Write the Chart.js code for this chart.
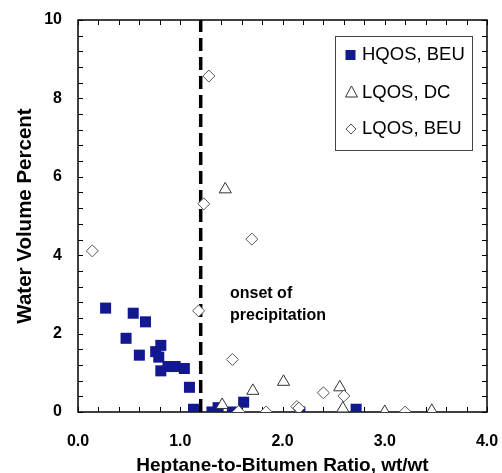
<!DOCTYPE html>
<html>
<head>
<meta charset="utf-8">
<script src="https://cdn.jsdelivr.net/npm/chart.js@4/dist/chart.umd.min.js"></script>
<style>
  body { margin: 0; background: #fff; }
  canvas { display: block; }
</style>
</head>
<body>
<canvas id="mycanvas" width="502" height="473"></canvas>
<script>
// HQOS, BEU (filled squares)
var hqosX = [0.27, 0.54, 0.66, 0.47, 0.60, 0.81, 0.76, 0.79, 0.81, 0.88, 0.95, 1.04, 1.09, 1.13, 1.31, 1.37, 1.51, 1.62, 2.17, 2.72];
var hqosY = [2.65, 2.52, 2.30, 1.88, 1.45, 1.70, 1.54, 1.40, 1.05, 1.16, 1.16, 1.11, 0.63, 0.07, 0.00, 0.11, 0.00, 0.25, 0.00, 0.07];
// LQOS, DC (open triangles)
var lqosDcX = [1.44, 1.41, 1.71, 2.01, 2.56, 2.59, 3.00, 3.46];
var lqosDcY = [5.68, 0.18, 0.54, 0.77, 0.63, 0.09, 0.00, 0.03];
// LQOS, BEU (open diamonds)
var lqosBeuX = [0.14, 1.28, 1.23, 1.70, 1.18, 1.51, 1.57, 1.84, 2.14, 2.16, 2.40, 2.60, 3.20];
var lqosBeuY = [4.11, 8.57, 5.31, 4.41, 2.58, 1.34, 0.01, 0.00, 0.14, 0.10, 0.49, 0.41, 0.00];
// onset of precipitation
var onsetX = 1.2;
var yRange = [0, 10];
var xRange = [0, 4];
var legendLabels = ["HQOS, BEU", "LQOS, DC", "LQOS, BEU"];
var noteLines = ["onset of", "precipitation"];

function pts(xs, ys) {
    var out = [];
    for (var i in xs) out.push({x: xs[i], y: ys[i]});
    return out;
}

var navy = '#12188f';

// frame with inward ticks on all four sides
var framePlugin = {
    id: 'frame',
    beforeDatasetsDraw: function(chart) {
        var ctx = chart.ctx, a = chart.chartArea;
        var xs = chart.scales.x, ys = chart.scales.y;
        ctx.save();
        ctx.strokeStyle = '#000';
        ctx.lineWidth = 1;
        ctx.beginPath();
        for (var i = 0; i <= 20; i++) {
            var px = Math.round(xs.getPixelForValue(i * 0.2)) + 0.5;
            ctx.moveTo(px, a.bottom); ctx.lineTo(px, a.bottom - 5);
            ctx.moveTo(px, a.top); ctx.lineTo(px, a.top + 5);
        }
        for (var j = 0; j <= 25; j++) {
            var py = Math.round(ys.getPixelForValue(j * 0.4)) + 0.5;
            ctx.moveTo(a.left, py); ctx.lineTo(a.left + 5, py);
            ctx.moveTo(a.right, py); ctx.lineTo(a.right - 5, py);
        }
        ctx.stroke();
        ctx.lineWidth = 1.5;
        ctx.strokeRect(a.left, a.top, a.right - a.left, a.bottom - a.top);
        ctx.restore();
    },
    afterDatasetsDraw: function(chart) {
        var ctx = chart.ctx;
        ctx.save();
        // note text
        ctx.fillStyle = '#000';
        ctx.font = 'bold 16px Arial, "Liberation Sans", sans-serif';
        ctx.textBaseline = 'alphabetic';
        ctx.textAlign = 'left';
        ctx.fillText(noteLines[0], 230, 298);
        ctx.fillText(noteLines[1], 230, 320);

        // legend box
        ctx.fillStyle = '#fff';
        ctx.fillRect(335, 36, 137, 114);
        ctx.strokeStyle = '#444';
        ctx.lineWidth = 1;
        ctx.strokeRect(335.5, 36.5, 137, 114);
        var rows = [55, 92.5, 129];
        // square
        ctx.fillStyle = navy;
        ctx.fillRect(345.5, rows[0] - 5, 10, 10);
        // triangle
        ctx.fillStyle = '#fff';
        ctx.strokeStyle = '#333';
        ctx.beginPath();
        ctx.moveTo(351.5, rows[1] - 6.5);
        ctx.lineTo(357.5, rows[1] + 4.5);
        ctx.lineTo(345.5, rows[1] + 4.5);
        ctx.closePath();
        ctx.fill(); ctx.stroke();
        // diamond
        ctx.strokeStyle = '#555';
        ctx.beginPath();
        ctx.moveTo(351, rows[2] - 5);
        ctx.lineTo(356, rows[2]);
        ctx.lineTo(351, rows[2] + 5);
        ctx.lineTo(346, rows[2]);
        ctx.closePath();
        ctx.fill(); ctx.stroke();
        ctx.fillStyle = '#000';
        ctx.font = '18.5px Arial, "Liberation Sans", sans-serif';
        ctx.textBaseline = 'middle';
        for (var k = 0; k < 3; k++) ctx.fillText(legendLabels[k], 362, rows[k]);
        ctx.restore();
    }
};

var chardata = {
    datasets: [
        {
            label: legendLabels[2],
            data: pts(lqosBeuX, lqosBeuY),
            pointStyle: 'rectRot',
            pointRadius: 6,
            backgroundColor: '#fff',
            borderColor: '#555',
            borderWidth: 1
        },
        {
            label: legendLabels[1],
            data: pts(lqosDcX, lqosDcY),
            pointStyle: 'triangle',
            pointRadius: 7,
            backgroundColor: '#fff',
            borderColor: '#333',
            borderWidth: 1
        },
        {
            label: legendLabels[0],
            data: pts(hqosX, hqosY),
            pointStyle: 'rect',
            pointRadius: 7.8,
            backgroundColor: navy,
            borderColor: navy,
            borderWidth: 0
        },
        {
            label: 'onset',
            data: [{x: onsetX, y: yRange[0]}, {x: onsetX, y: yRange[1]}],
            showLine: true,
            borderColor: '#000',
            borderWidth: 3.5,
            borderDash: [13, 6],
            pointRadius: 0
        }
    ]
};

var ctx = document.getElementById('mycanvas');
var chart = new Chart(ctx, {
    type: 'scatter',
    data: chardata,
    plugins: [framePlugin],
    options: {
        responsive: false,
        animation: false,
        devicePixelRatio: 1,
        layout: { padding: { top: 20, right: 15, left: 0, bottom: 0 } },
        plugins: { legend: { display: false }, tooltip: { enabled: false } },
        scales: {
            x: {
                type: 'linear',
                min: xRange[0], max: xRange[1],
                grid: { display: false, drawTicks: false },
                border: { display: false },
                ticks: {
                    stepSize: 1,
                    padding: 20,
                    color: '#000',
                    font: { family: 'Arial, "Liberation Sans", sans-serif', size: 16, weight: 'bold' },
                    callback: function(v) { return v.toFixed(1); }
                },
                title: {
                    display: true,
                    text: 'Heptane-to-Bitumen Ratio, wt/wt',
                    color: '#000',
                    font: { family: 'Arial, "Liberation Sans", sans-serif', size: 19, weight: 'bold', lineHeight: 0.74 },
                    padding: 0
                },
                afterFit: function(scale) {
                    scale.height = 61;
                    scale.paddingLeft = 0;
                    scale.paddingRight = 0;
                }
            },
            y: {
                type: 'linear',
                min: yRange[0], max: yRange[1],
                grid: { display: false, drawTicks: false },
                border: { display: false },
                ticks: {
                    stepSize: 2,
                    padding: 16,
                    color: '#000',
                    font: { family: 'Arial, "Liberation Sans", sans-serif', size: 16, weight: 'bold' }
                },
                title: {
                    display: true,
                    text: 'Water Volume Percent',
                    color: '#000',
                    font: { family: 'Arial, "Liberation Sans", sans-serif', size: 20.5, weight: 'bold' },
                    padding: { top: 12.7, bottom: 0 }
                },
                afterFit: function(scale) {
                    scale.width = 78;
                    scale.paddingTop = 0;
                    scale.paddingBottom = 0;
                }
            }
        }
    }
});
</script>
</body>
</html>
